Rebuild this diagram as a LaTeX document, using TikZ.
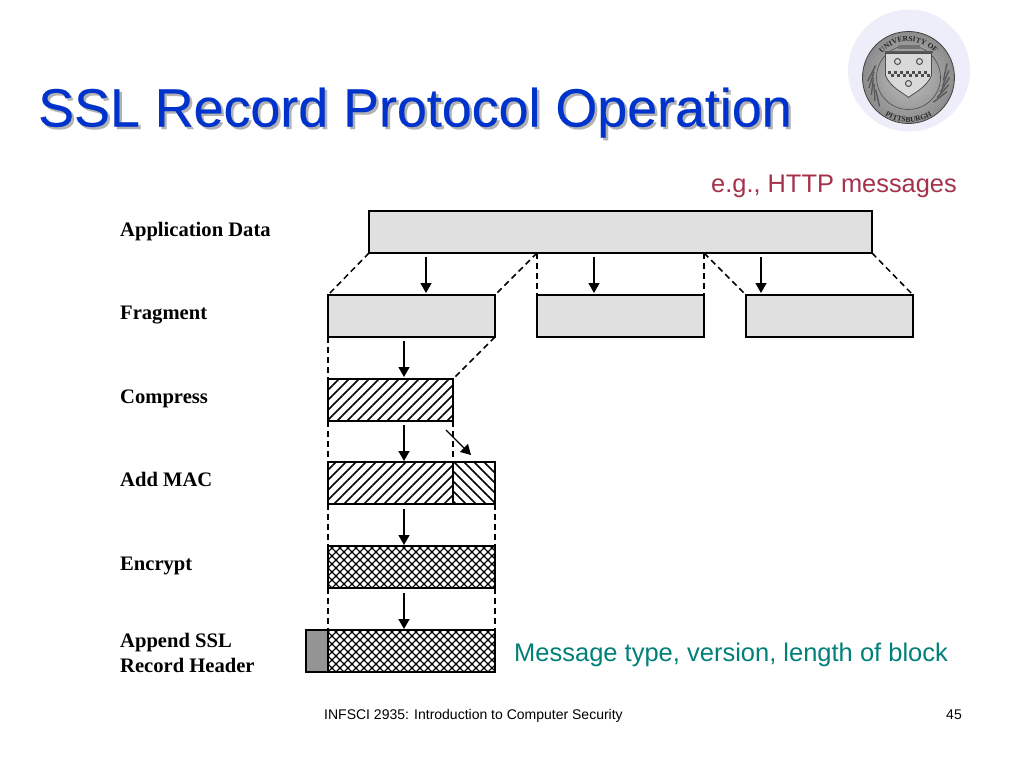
\documentclass[tikz,border=0pt]{standalone}
\usepackage{fontspec}
\setmainfont{Liberation Sans}
\newfontfamily\timesfont{Liberation Serif}
\newfontfamily\titlefont[FakeBold=0.35]{Liberation Sans}
\usepackage{tikz}
\usetikzlibrary{arrows.meta,patterns.meta,decorations.text}
\definecolor{titleblue}{RGB}{0,51,204}
\definecolor{redtext}{RGB}{165,50,75}
\definecolor{tealtext}{RGB}{0,128,120}
\definecolor{halo}{RGB}{238,238,251}
\begin{document}
\begin{tikzpicture}[x=1pt, y=-1pt]
	\tikzset{block/.style = {shape=rectangle, draw=black, line width=2pt, inner sep=0pt, outer sep=0pt, anchor=north west},
		plain/.style = {block, fill=black!12},
		hatch/.style = {pattern={Lines[angle=45,distance=7.071pt,line width=1.6pt]}},
		back/.style = {pattern={Lines[angle=-45,distance=7.071pt,line width=1.6pt]}},
		cross/.style = {pattern={Hatch[angle=45,distance=5.657pt,line width=1.3pt]}},
		rowlabel/.style = {font=\timesfont\bfseries\fontsize{20.6}{25}\selectfont, anchor=base west, inner sep=0pt},
		guide/.style = {line width=1.5pt, dash pattern=on 6pt off 4pt},
		flow/.style = {-{Triangle[width=11pt,length=10pt]}, line width=1.4pt}}
	\useasboundingbox (0,0) rectangle (1024,768);
	% seal
	\node[circle, fill=halo, minimum size=122pt, inner sep=0pt] (halo) at (909,70.5) {};
	\begin{scope}[shift={(908.5,77.5)}, x=1pt, y=1pt]
		\shade[inner color=black!25, outer color=black!45] (0,0) circle (46);
		\draw[black!75, line width=0.8pt] (0,0) circle (46);
		\draw[black!70, line width=0.6pt] (0,0) circle (32);
		\foreach \a in {160,170,...,200, -45,-35,...,-5}{
			\draw[black!65, line width=1.4pt] (\a:35) -- (\a+25:41);
		}
		\fill[black!15] (-23,24) -- (23,24) -- (23,2) .. controls (18,-10) and (6,-15) .. (0,-20) .. controls (-6,-15) and (-18,-10) .. (-23,2) -- cycle;
		\draw[black!70, line width=0.8pt] (-23,24) -- (23,24) -- (23,2) .. controls (18,-10) and (6,-15) .. (0,-20) .. controls (-6,-15) and (-18,-10) .. (-23,2) -- cycle;
		\foreach \x in {-21,-15,...,15}{
			\fill[black!70] (\x,4) rectangle ++(3,3);
			\fill[black!70] (\x+3,1) rectangle ++(3,3);
		}
		\foreach \x in {-11,11}{
			\draw[black!70, line width=1pt] (\x,16) circle (3);
		}
		\draw[black!70, line width=1pt] (0,-6) circle (3);
		\fill[black!65] (-24,24) rectangle (24,26.5);
		\fill[black!55] (-11,28) rectangle (11,32);
		\path[decorate, decoration={text along path, text align=center, text={|\timesfont\bfseries\fontsize{7.5}{8}\selectfont\color{black!85}|UNIVERSITY OF}}] (-34.5,10.5) arc[start angle=163, end angle=17, radius=36];
		\path[decorate, decoration={text along path, text align=center, text={|\timesfont\bfseries\fontsize{7.5}{8}\selectfont\color{black!85}|PITTSBURGH}}] (-28.2,-34.8) arc[start angle=231, end angle=309, radius=44.8];
	\end{scope}
	% title and slide text
	\node[font=\titlefont\fontsize{53.8}{54}\selectfont, text=black!30, anchor=base west, inner sep=0pt] (titleshade) at (40.5,129) {SSL Record Protocol Operation};
	\node[font=\titlefont\fontsize{53.8}{54}\selectfont, text=titleblue, anchor=base west, inner sep=0pt] (title) at (38,126.5) {SSL Record Protocol Operation};
	\node[font=\fontsize{25.4}{25}\selectfont, text=redtext, anchor=base east, inner sep=0pt] (httpnote) at (957,192) {e.g., HTTP messages};
	\node[font=\fontsize{25.5}{25}\selectfont, text=tealtext, anchor=base west, inner sep=0pt] (typenote) at (514,661) {Message type, version, length of block};
	\node[font=\fontsize{14}{14}\selectfont, anchor=base west, inner sep=0pt] (footer) at (324,719) {INFSCI 2935: Introduction to Computer Security};
	\node[font=\fontsize{14}{14}\selectfont, anchor=base east, inner sep=0pt] (pagenum) at (962,719) {45};
	% row labels
	\node[rowlabel] (lapp) at (120,236) {Application Data};
	\node[rowlabel] (lfrag) at (120,319) {Fragment};
	\node[rowlabel] (lcomp) at (120,403) {Compress};
	\node[rowlabel] (lmac) at (120,486) {Add MAC};
	\node[rowlabel] (lenc) at (120,570) {Encrypt};
	\node[rowlabel] (lapp1) at (120,647) {Append SSL};
	\node[rowlabel] (lapp2) at (120,672) {Record Header};
	% blocks
	\node[plain, minimum width=503pt, minimum height=42pt] (app) at (369,211) {};
	\foreach \n/\x in {1/328, 2/537, 3/746}{
		\node[plain, minimum width=167pt, minimum height=42pt] (frag\n) at (\x,295) {};
	}
	\node[block, hatch, minimum width=125pt, minimum height=42pt] (comp) at (328,379) {};
	\node[block, hatch, minimum width=125pt, minimum height=42pt] (mac) at (328,462) {};
	\node[block, back, minimum width=42pt, minimum height=42pt] (tag) at (453,462) {};
	\node[block, cross, minimum width=167pt, minimum height=42pt] (enc) at (328,546) {};
	\node[block, cross, minimum width=167pt, minimum height=42pt] (rec) at (328,630) {};
	\node[block, fill=black!42, minimum width=22pt, minimum height=42pt] (hdr) at (306,630) {};
	% dashed guides
	\coordinate (cut1) at (537,253);
	\coordinate (cut2) at (704,253);
	\draw[guide] (app.south west) -- (frag1.north west);
	\draw[guide] (cut1) -- (frag1.north east);
	\draw[guide] (cut1) -- (frag2.north west);
	\draw[guide] (cut2) -- (frag2.north east);
	\draw[guide] (cut2) -- (frag3.north west);
	\draw[guide] (app.south east) -- (frag3.north east);
	\draw[guide] (frag1.south west) -- (comp.north west);
	\draw[guide] (frag1.south east) -- (comp.north east);
	\draw[guide] (comp.south west) -- (mac.north west);
	\draw[guide] (comp.south east) -- (mac.north east);
	\draw[guide] (mac.south west) -- (enc.north west);
	\draw[guide] (tag.south east) -- (enc.north east);
	\draw[guide] (enc.south west) -- (rec.north west);
	\draw[guide] (enc.south east) -- (rec.north east);
	% arrows
	\foreach \n/\x in {1/426, 2/594, 3/761}{
		\coordinate (from\n) at (\x,257);
		\coordinate (to\n) at (\x,293);
		\draw[flow] (from\n) -- (to\n);
	}
	\foreach \n/\y in {4/341, 5/425, 6/509, 7/593}{
		\coordinate (from\n) at (404,\y);
		\coordinate (to\n) at (404,\y+36);
		\draw[flow] (from\n) -- (to\n);
	}
	\coordinate (from8) at (446,430);
	\coordinate (to8) at (471,455);
	\draw[flow] (from8) -- (to8);
\end{tikzpicture}
\end{document}
